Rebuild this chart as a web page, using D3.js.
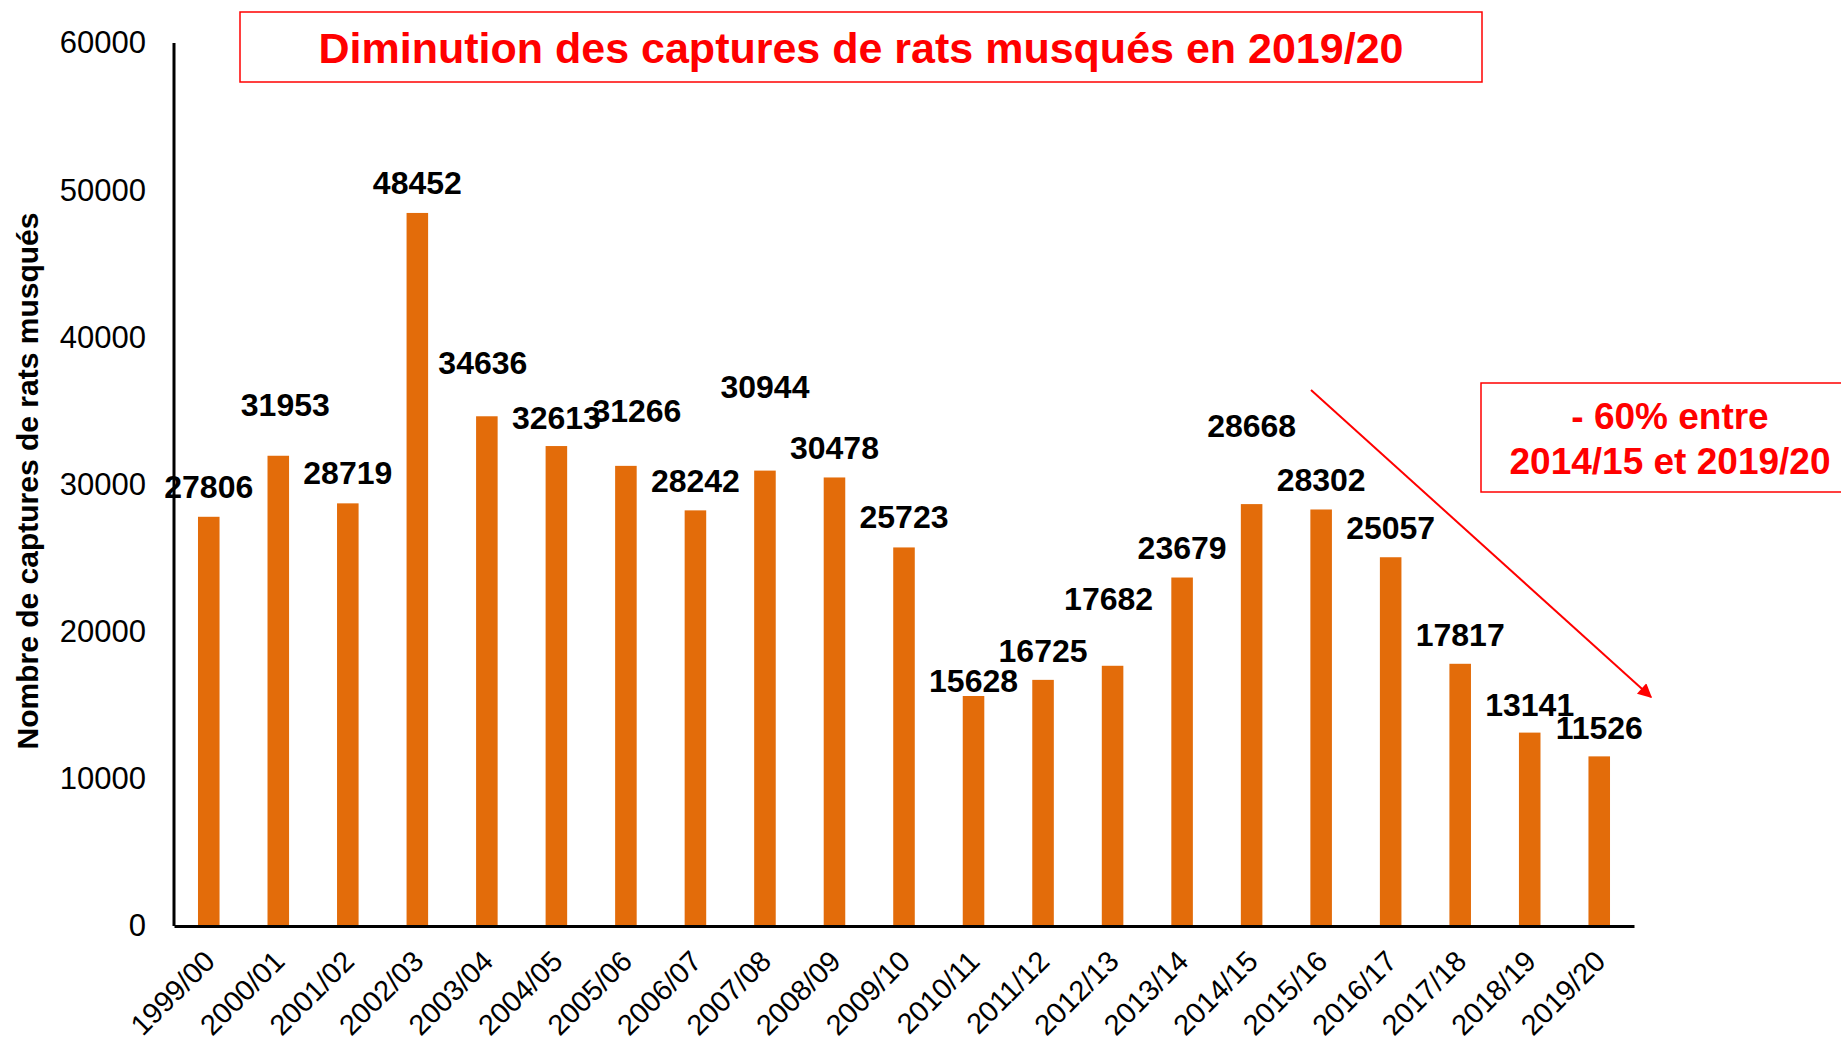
<!DOCTYPE html>
<html>
<head>
<meta charset="utf-8">
<script src="https://cdn.jsdelivr.net/npm/d3@7"></script>
<style>
	body { margin: 0; background: #fff; }
	svg { display: block; font-family: 'Liberation Sans', Arial, sans-serif; }
</style>
</head>
<body>
<svg class="chart" width="1841" height="1042"></svg>
<script>
/** DATA **/
let seasons = ['1999/00', '2000/01', '2001/02', '2002/03', '2003/04', '2004/05', '2005/06',
	'2006/07', '2007/08', '2008/09', '2009/10', '2010/11', '2011/12', '2012/13', '2013/14',
	'2014/15', '2015/16', '2016/17', '2017/18', '2018/19', '2019/20'];
let captures = [27806, 31953, 28719, 48452, 34636, 32613, 31266, 28242, 30944, 30478, 25723,
	15628, 16725, 17682, 23679, 28668, 28302, 25057, 17817, 13141, 11526];
let yTicks = [0, 10000, 20000, 30000, 40000, 50000, 60000];
let title = 'Diminution des captures de rats musqués en 2019/20';
let yTitle = 'Nombre de captures de rats musqués';
let note = ['- 60% entre', '2014/15 et 2019/20'];

// label placement (the labels were moved by hand in the original)
let labelLift = [29, 50, 29, 29, 52, 27, 54, 28, 83, 28, 29, 14, 28, 66, 29, 77, 28, 28, 28, 27, 27];
let labelShift = [0, 7, 0, 0, -4, 0, 11, 0, 0, 0, 0, 0, 0, -4, 0, 0, 0, 0, 0, 0, 0];

/** CONSTANTS **/
let orange = '#e36c0a';
let red = '#ff0000';

let x = d3.scaleBand().domain(seasons).range([174, 1634]).paddingInner(0.69).paddingOuter(0.345);
let y = d3.scaleLinear().domain([0, 60000]).range([926, 43]);

let svg = d3.select('.chart');

// bars
svg.selectAll('.bar')
	.data(captures)
	.enter()
	.append('rect')
	.attr('class', 'bar')
	.attr('x', function(d, i) { return x(seasons[i]); })
	.attr('y', function(d) { return y(d); })
	.attr('width', x.bandwidth())
	.attr('height', function(d) { return y(0) - y(d); })
	.style('fill', orange);

// y axis: line + labels only
svg.append('line')
	.attr('x1', 174).attr('x2', 174)
	.attr('y1', y(60000)).attr('y2', y(0))
	.style('stroke', '#000').style('stroke-width', 3);

svg.append('g')
	.attr('transform', 'translate(174,0)')
	.call(d3.axisLeft(y).tickValues(yTicks).tickSize(0).tickPadding(28).tickFormat(d3.format('d')))
	.call(function(g) { g.select('.domain').remove(); })
	.selectAll('text')
	.style('font-size', '31px')
	.style('font-family', 'Liberation Sans, Arial, sans-serif')
	.style('fill', '#000');

// x axis
let xAxis = svg.append('g')
	.attr('transform', 'translate(0,' + y(0) + ')')
	.call(d3.axisBottom(x).tickSize(0).tickPadding(0));
xAxis.select('.domain').style('stroke', '#000').style('stroke-width', 3);
xAxis.selectAll('text')
	.attr('text-anchor', 'end')
	.attr('dy', 0)
	.attr('transform', 'translate(8,37) rotate(-45)')
	.style('font-size', '29px')
	.style('font-family', 'Liberation Sans, Arial, sans-serif')
	.style('fill', '#000');

// value labels (drawn after the axis, as in the original)
svg.selectAll('.val')
	.data(captures)
	.enter()
	.append('text')
	.attr('class', 'val')
	.attr('x', function(d, i) { return x(seasons[i]) + x.bandwidth() / 2 + labelShift[i]; })
	.attr('y', function(d, i) { return y(d) - labelLift[i] + 10; })
	.attr('text-anchor', 'middle')
	.style('font-size', '32px')
	.style('font-weight', 'bold')
	.text(function(d) { return d; });

// y title
svg.append('text')
	.attr('transform', 'translate(38,481) rotate(-90)')
	.attr('text-anchor', 'middle')
	.style('font-size', '30px')
	.style('font-weight', 'bold')
	.text(yTitle);

// title box
svg.append('rect')
	.attr('x', 240).attr('y', 12)
	.attr('width', 1242).attr('height', 70)
	.style('fill', 'none').style('stroke', red).style('stroke-width', 1.5);
svg.append('text')
	.attr('x', 861).attr('y', 63)
	.attr('text-anchor', 'middle')
	.style('font-size', '43px')
	.style('font-weight', 'bold')
	.style('fill', red)
	.text(title);

// note box
svg.append('rect')
	.attr('x', 1481).attr('y', 383)
	.attr('width', 380).attr('height', 109)
	.style('fill', 'none').style('stroke', red).style('stroke-width', 1.5);
svg.selectAll('.note')
	.data(note)
	.enter()
	.append('text')
	.attr('class', 'note')
	.attr('x', 1670)
	.attr('y', function(d, i) { return 429 + i * 45; })
	.attr('text-anchor', 'middle')
	.style('font-size', '37px')
	.style('font-weight', 'bold')
	.style('fill', red)
	.text(function(d) { return d; });

// trend arrow
svg.append('defs').append('marker')
	.attr('id', 'head')
	.attr('viewBox', '0 0 10 10')
	.attr('refX', 9).attr('refY', 5)
	.attr('markerWidth', 18).attr('markerHeight', 14)
	.attr('markerUnits', 'userSpaceOnUse')
	.attr('orient', 'auto')
	.append('path')
	.attr('d', 'M0,0 L10,5 L0,10 z')
	.style('fill', red);
svg.append('line')
	.attr('x1', 1311).attr('y1', 390)
	.attr('x2', 1651).attr('y2', 697)
	.style('stroke', red).style('stroke-width', 2)
	.attr('marker-end', 'url(#head)');
</script>
</body>
</html>
